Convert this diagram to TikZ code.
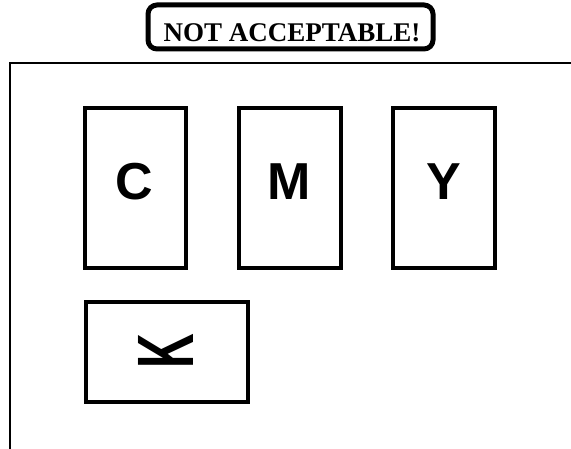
\documentclass[tikz,border=0pt]{standalone}
\usepackage{fontspec}
\setmainfont{Liberation Serif}
\newfontfamily\arialfont{Liberation Sans}
\begin{document}
\begin{tikzpicture}[x=1pt,y=-1pt,
  inkbox/.style={draw=black,line width=3.5pt},
  inklabel/.style={font=\arialfont\bfseries\fontsize{52}{52}\selectfont,inner sep=0pt,anchor=base},
  titlebox/.style={draw=black,line width=5pt,rounded corners=9pt},
  titletext/.style={font=\bfseries\fontsize{27}{27}\selectfont,inner sep=0pt,anchor=base}]
\useasboundingbox (0,0) rectangle (571,449);
% title
\draw[titlebox] (148,5) rectangle (433,49);
\node[titletext] (title) at (292,42) {NOT ACCEPTABLE!};
% frame
\coordinate (ftr) at (571,63);
\coordinate (ftl) at (10,63);
\coordinate (fbl) at (10,449);
\draw[line width=2pt] (ftr) -- (ftl) -- (fbl);
% boxes
\draw[inkbox] (85,108) rectangle (186,268);
\draw[inkbox] (239,108) rectangle (341,268);
\draw[inkbox] (393,108) rectangle (495,268);
\draw[inkbox] (86,302) rectangle (248,402);
\node[inklabel] (c) at (134.5,200) {C};
\node[inklabel] (m) at (289,200) {M};
\node[inklabel] (y) at (443.5,200) {Y};
\node[font=\arialfont\bfseries\fontsize{80}{80}\selectfont,inner sep=0pt,rotate=90] (k) at (166,351) {\scalebox{0.6}[1]{K}};
\end{tikzpicture}
\end{document}
